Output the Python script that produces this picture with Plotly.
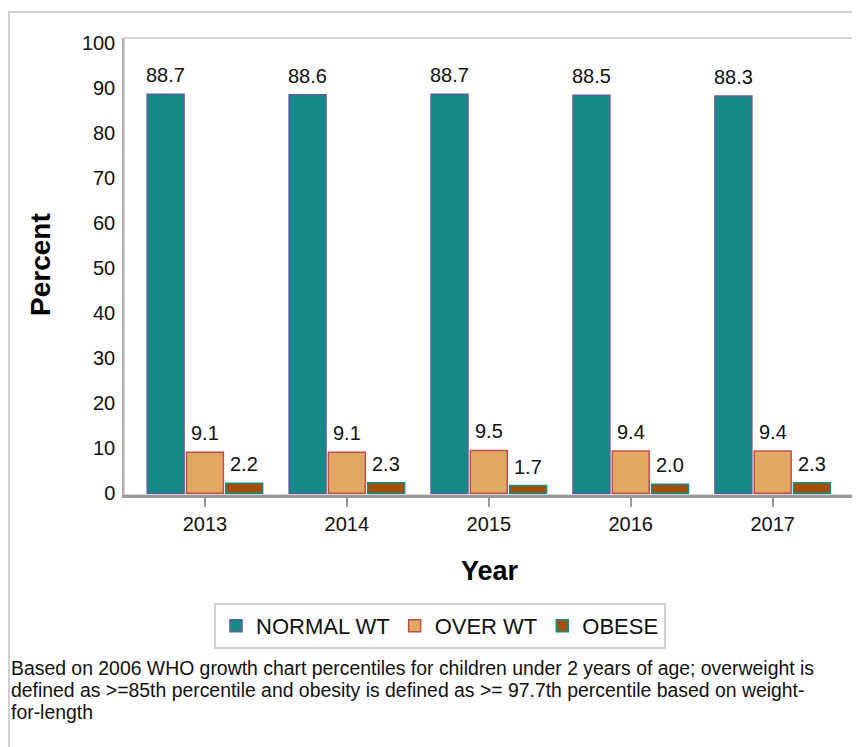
import plotly.graph_objects as go

years = ["2013", "2014", "2015", "2016", "2017"]
normal_wt = [88.7, 88.6, 88.7, 88.5, 88.3]
over_wt = [9.1, 9.1, 9.5, 9.4, 9.4]
obese = [2.2, 2.3, 1.7, 2.0, 2.3]
series_names = ["NORMAL WT", "OVER WT", "OBESE"]
y_ticks = [0, 10, 20, 30, 40, 50, 60, 70, 80, 90, 100]
footnote_lines = [
    "Based on 2006 WHO growth chart percentiles for children under 2 years of age; overweight is",
    "defined as >=85th percentile and obesity is defined as >= 97.7th percentile based on weight-",
    "for-length",
]

OFF = 8  # default body margin of the html page
W, H = 860, 747
L, R, T, B = 124 - OFF, 855 - OFF, 38 - OFF, 495 - OFF
pw, ph = R - L, B - T

fills = ["#168a84", "#e0a862", "#a0500a"]
lines = ["#5a5fa0", "#c0504d", "#168a84"]
font = "Liberation Sans, Arial, sans-serif"

X_RANGE = [-0.57, 4.58]
BARGAP, GROUPGAP = 0.17, 0.06
cat_px = pw / (X_RANGE[1] - X_RANGE[0])
slot_px = cat_px * (1 - BARGAP) / 3

fig = go.Figure()
annotations = []
for i, (name, vals, fc, lc) in enumerate(zip(series_names, [normal_wt, over_wt, obese], fills, lines)):
    fig.add_trace(go.Bar(
        x=years, y=vals, name=name,
        marker=dict(color=fc, line=dict(color=lc, width=1.5)),
    ))
    for j, v in enumerate(vals):
        annotations.append(dict(
            x=j, y=v, xref="x", yref="y", text=f"{v:.1f}", showarrow=False,
            xanchor="center", yanchor="bottom", xshift=(i - 1) * slot_px, yshift=6,
            font=dict(size=20, family=font, color="#111111"),
        ))


def px_x(x):
    return (x - OFF - L) / pw


def px_y(y):
    return 1 - (y - OFF - T) / ph


for k, ln in enumerate(footnote_lines):
    annotations.append(dict(
        text=ln, xref="paper", yref="paper", x=px_x(9), y=px_y(668 + 22 * k),
        xanchor="left", yanchor="middle", align="left", showarrow=False,
        font=dict(size=19.4, family=font, color="#111111"),
    ))

annotations.append(dict(
    text="<b>Percent</b>", xref="paper", yref="paper", x=px_x(40), y=px_y(265),
    xanchor="center", yanchor="middle", textangle=-90, showarrow=False,
    font=dict(size=28, family=font, color="#000000"),
))
annotations.append(dict(
    text="<b>Year</b>", xref="paper", yref="paper", x=px_x(490), y=px_y(571),
    xanchor="center", yanchor="middle", showarrow=False,
    font=dict(size=27, family=font, color="#000000"),
))

fig.update_layout(
    width=W, height=H,
    margin=dict(l=L, r=W - R, t=T, b=H - B),
    paper_bgcolor="white", plot_bgcolor="white",
    barmode="group", bargap=BARGAP, bargroupgap=GROUPGAP,
    font=dict(family=font, color="#111111"),
    showlegend=True,
    legend=dict(orientation="h", x=px_x(440), xanchor="center", y=px_y(626), yanchor="middle",
                font=dict(size=22, family=font), bordercolor="#d0d0d0", borderwidth=2,
                itemwidth=30, traceorder="normal", tracegroupgap=0),
    xaxis=dict(
        range=X_RANGE, type="category",
        showline=True, linecolor="#9a9a9a", linewidth=3,
        ticks="outside", ticklen=9, tickcolor="#9a9a9a", tickwidth=1.5,
        tickfont=dict(size=20, family=font),
        showgrid=False,
    ),
    yaxis=dict(
        range=[-0.4, 101.2], tickvals=y_ticks,
        showline=True, linecolor="#b0b0b0", linewidth=1.5,
        ticks="outside", ticklen=3, tickcolor="rgba(0,0,0,0)",
        tickfont=dict(size=20, family=font),
        showgrid=False, zeroline=False,
    ),
    shapes=[
        dict(type="rect", xref="paper", yref="paper",
             x0=0, x1=1, y0=0, y1=1, line=dict(color="#c8c8c8", width=1.5), layer="below"),
        dict(type="rect", xref="paper", yref="paper",
             x0=px_x(9), x1=px_x(880), y0=px_y(780), y1=px_y(12),
             line=dict(color="#d0d0d0", width=2), layer="below"),
    ],
    annotations=annotations,
)

fig.write_html("out.html")
